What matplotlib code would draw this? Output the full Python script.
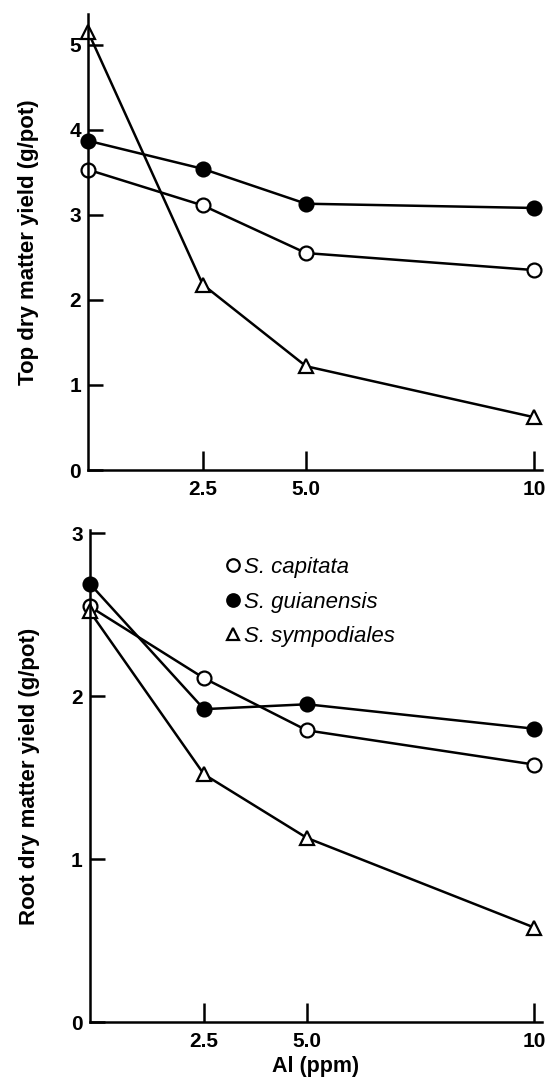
import numpy as np
import matplotlib
matplotlib.use("Agg")
import matplotlib.pyplot as plt

# Data ===========================================
al_ppm = [0, 2.5, 5.0, 10]

top_capitata    = [3.53, 3.11, 2.55, 2.35]
top_guianensis  = [3.87, 3.54, 3.13, 3.08]
top_sympodiales = [5.15, 2.18, 1.22, 0.62]

root_capitata    = [2.55, 2.11, 1.79, 1.58]
root_guianensis  = [2.69, 1.92, 1.95, 1.80]
root_sympodiales = [2.52, 1.52, 1.13, 0.58]

species = ['S. capitata', 'S. guianensis', 'S. sympodiales']

# the original x axis is hand drawn, not linear
scale_x = [0, 2.5, 5.0, 10, 12]
scale_p = [0, 1.0, 1.90, 3.89, 4.68]

def fwd(x):
    return np.interp(x, scale_x, scale_p)

def inv(p):
    return np.interp(p, scale_p, scale_x)

plt.rcParams['font.family'] = ['Liberation Sans', 'DejaVu Sans']

fig = plt.figure(figsize=(5.54, 10.77), dpi=100)
ax_top = fig.add_axes([0.159, 0.5636, 0.82, 0.4234])
ax_root = fig.add_axes([0.162, 0.051, 0.817, 0.457])

styles = [dict(marker='o', mfc='white'),
          dict(marker='o', mfc='black'),
          dict(marker='^', mfc='white')]

for ax, series in [(ax_top, [top_capitata, top_guianensis, top_sympodiales]),
                   (ax_root, [root_capitata, root_guianensis, root_sympodiales])]:
    for name, vals, st in zip(species, series, styles):
        ax.plot(al_ppm, vals, color='black', lw=1.8, ms=10, mec='black',
                mew=1.6, clip_on=False, label=name, **st)
    ax.set_xscale('function', functions=(fwd, inv))
    ax.set_xlim(0, 10.18)
    ax.set_xticks([2.5, 5.0, 10])
    ax.set_xticklabels(['2.5', '5.0', '10'])
    ax.tick_params(axis='x', direction='in', length=14, width=1.8, pad=7)
    ax.tick_params(axis='y', direction='in', length=11, width=1.8, pad=5)
    ax.tick_params(labelsize=15)
    for lab in ax.get_xticklabels() + ax.get_yticklabels():
        lab.set_fontweight('bold')
    for side in ['top', 'right']:
        ax.spines[side].set_visible(False)
    for side in ['left', 'bottom']:
        ax.spines[side].set_linewidth(1.8)

ax_top.set_ylim(0, 5.36)
ax_top.set_yticks([0, 1, 2, 3, 4, 5])
ax_top.set_ylabel('Top dry matter yield (g/pot)', fontsize=16, fontweight='bold', labelpad=22)

ax_root.set_ylim(0, 3.02)
ax_root.set_yticks([0, 1, 2, 3])
ax_root.set_ylabel('Root dry matter yield (g/pot)', fontsize=16, fontweight='bold', labelpad=22)
ax_root.set_xlabel('Al (ppm)', fontsize=15.5, fontweight='bold', labelpad=4)

leg = ax_root.legend(loc='upper left', bbox_to_anchor=(0.26, 0.985), frameon=False,
                     handlelength=0.5, handletextpad=0.25, labelspacing=0.6,
                     prop={'size': 16, 'style': 'italic'})
for line in leg.get_lines():
    line.set_linestyle('none')
    line.set_markersize(9)

fig.savefig('out.png', dpi=100, facecolor='white')
